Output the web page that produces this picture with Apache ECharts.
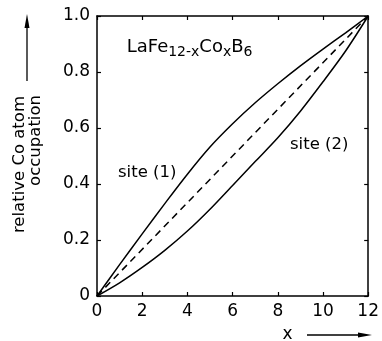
<!DOCTYPE html>
<html><head><meta charset="utf-8">
<script src="https://cdn.jsdelivr.net/npm/echarts@6/dist/echarts.min.js"></script>
<style>html,body{margin:0;padding:0;background:#fff}#c{width:382px;height:341px}</style>
</head><body><div id="c"></div>
<script>
const xValues = [0, 1, 2, 3, 4, 5, 6, 7, 8, 9, 10, 11, 12];
const site1 = [0, 0.112, 0.222, 0.33, 0.435, 0.532, 0.615, 0.69, 0.758, 0.822, 0.882, 0.94, 1.0];
const site2 = [0, 0.047, 0.102, 0.163, 0.232, 0.31, 0.395, 0.48, 0.565, 0.66, 0.765, 0.875, 1.0];
const diagonalX = [0, 12];
const diagonalY = [0, 1];
const xTickLabels = ['0', '2', '4', '6', '8', '10', '12'];
const yTickLabels = ['0', '0.2', '0.4', '0.6', '0.8', '1.0'];
const titleParts = [['LaFe', false], ['12-x', true], ['Co', false], ['x', true], ['B', false], ['6', true]];

const FONT = 'DejaVu Sans';
const chart = echarts.init(document.getElementById('c'), null, {renderer: 'canvas'});

const axisLine = {show: true, onZero: false, lineStyle: {color: '#000', width: 1.5}};
const axisTick = {show: true, inside: true, length: 4, lineStyle: {color: '#000', width: 1.2}};

function xAx(pos, showLabel) {
  return {
    type: 'value', position: pos, min: 0, max: 12, interval: 2,
    axisLine: axisLine, axisTick: axisTick, splitLine: {show: false},
    axisLabel: {show: showLabel, margin: 7, fontFamily: FONT, fontSize: 17, color: '#000',
      formatter: v => xTickLabels[Math.round(v / 2)]}
  };
}
function yAx(pos, showLabel) {
  return {
    type: 'value', position: pos, min: 0, max: 1, interval: 0.2,
    axisLine: axisLine, axisTick: axisTick, splitLine: {show: false},
    axisLabel: {show: showLabel, margin: 7, fontFamily: FONT, fontSize: 17, color: '#000',
      formatter: v => yTickLabels[Math.round(v * 5)]}
  };
}
const lineStyle = {color: '#000', width: 1.5};

// title built from measured text pieces (main 18px, subscripts 14px)
const ctx = document.createElement('canvas').getContext('2d');
const titleEls = [];
let cx = 126.7;
titleParts.forEach(([t, sub]) => {
  const size = sub ? 14 : 18;
  const font = size + 'px "DejaVu Sans"';
  ctx.font = font;
  titleEls.push({type: 'text', x: cx, y: sub ? 45 : 38.5,
    style: {text: t, font: font, fill: '#000', align: 'left', verticalAlign: 'top'}});
  cx += ctx.measureText(t).width;
});

const option = {
  animation: false,
  grid: {left: 97, right: 12, top: 16, bottom: 45, containLabel: false},
  xAxis: [xAx('bottom', true), xAx('top', false)],
  yAxis: [yAx('left', true), yAx('right', false)],
  series: [
    {type: 'line', name: 'site (1)', data: xValues.map((x, i) => [x, site1[i]]), smooth: 0.3,
      showSymbol: false, lineStyle: lineStyle},
    {type: 'line', name: 'site (2)', data: xValues.map((x, i) => [x, site2[i]]), smooth: 0.3,
      showSymbol: false, lineStyle: lineStyle},
    {type: 'line', name: 'diagonal', data: diagonalX.map((x, i) => [x, diagonalY[i]]),
      showSymbol: false, lineStyle: {color: '#000', width: 1.5, type: [7, 5]}}
  ],
  graphic: titleEls.concat([
    {type: 'text', x: 118, y: 173, style: {text: 'site (1)', font: '16.5px "DejaVu Sans"', fill: '#000', align: 'left', verticalAlign: 'middle'}},
    {type: 'text', x: 290, y: 145, style: {text: 'site (2)', font: '16.5px "DejaVu Sans"', fill: '#000', align: 'left', verticalAlign: 'middle'}},
    {type: 'text', x: 287.5, y: 335, style: {text: 'x', font: '17px "DejaVu Sans"', fill: '#000', align: 'center', verticalAlign: 'middle'}},
    {type: 'line', shape: {x1: 307, y1: 335, x2: 362, y2: 335}, style: {stroke: '#000', lineWidth: 1.3}},
    {type: 'polygon', shape: {points: [[372, 335], [358, 332.5], [358, 337.5]]}, style: {fill: '#000'}},
    {type: 'text', x: 19.5, y: 96, rotation: Math.PI / 2, style: {text: 'relative Co atom', font: '16.5px "DejaVu Sans"', fill: '#000', align: 'right', verticalAlign: 'middle'}},
    {type: 'text', x: 36, y: 95, rotation: Math.PI / 2, style: {text: 'occupation', font: '16.5px "DejaVu Sans"', fill: '#000', align: 'right', verticalAlign: 'middle'}},
    {type: 'line', shape: {x1: 27, y1: 81, x2: 27, y2: 24}, style: {stroke: '#000', lineWidth: 1.3}},
    {type: 'polygon', shape: {points: [[27, 14], [24.5, 28], [29.5, 28]]}, style: {fill: '#000'}}
  ])
};
chart.setOption(option);
</script>
</body></html>
